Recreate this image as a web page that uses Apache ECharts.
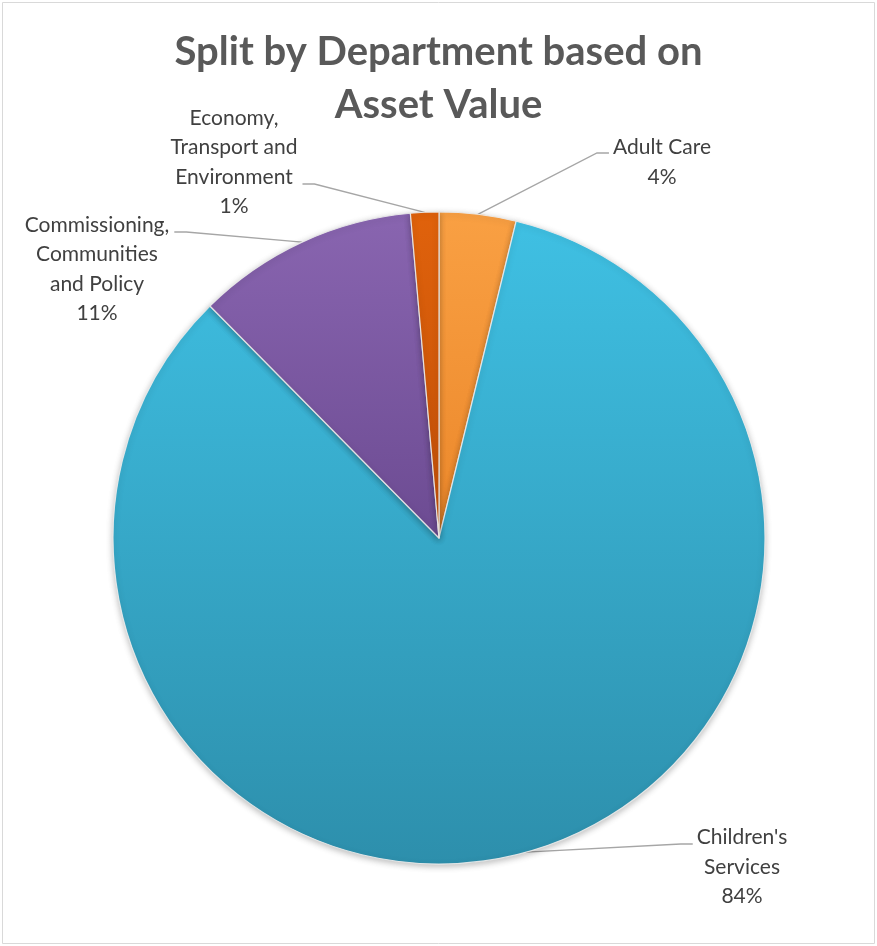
<!DOCTYPE html>
<html><head><meta charset="utf-8">
<script src="https://cdn.jsdelivr.net/npm/echarts@6/dist/echarts.min.js"></script>
<style>html,body{margin:0;padding:0;background:#fff}#c{width:877px;height:946px}</style>
</head><body><div id="c"></div>
<script>
// ---- data ----
const categories = ['Adult Care', "Children's Services", 'Commissioning, Communities and Policy', 'Economy, Transport and Environment'];
const values = [3.8, 83.8, 11.0, 1.4];
const labelNames = ['Adult Care', "Children's\nServices", 'Commissioning,\nCommunities\nand Policy', 'Economy,\nTransport and\nEnvironment'];

// ---- styling ----
const colorsTop = ['#f9a043', '#3fc0e3', '#8965b0', '#e0620c'];
const colorsBottom = ['#eb872a', '#2d8fac', '#6c4b92', '#c25008'];
const labelPlace = [
  {cx: 662, cy: 162, ly: 153, side: 'right'},
  {cx: 742, cy: 867, ly: 844, side: 'right'},
  {cx: 97, cy: 269, ly: 232, side: 'left'},
  {cx: 234, cy: 162, ly: 184, side: 'left'}
];

const chart = echarts.init(document.getElementById('c'), null, {renderer: 'canvas'});
const data = categories.map((name, i) => ({
  name: name,
  value: values[i],
  itemStyle: {
    color: new echarts.graphic.LinearGradient(0, 0, 0, 1, [
      {offset: 0, color: colorsTop[i]},
      {offset: 1, color: colorsBottom[i]}
    ])
  }
}));

chart.setOption({
  animation: false,
  backgroundColor: '#ffffff',
  title: {
    text: 'Split by Department based on\nAsset Value',
    left: 'center',
    top: 21,
    textStyle: {
      fontFamily: 'Lato',
      fontSize: 40,
      fontWeight: 'bold',
      color: '#595959',
      lineHeight: 53
    }
  },
  graphic: [{
    type: 'rect',
    shape: {x: 2.5, y: 2.5, width: 872, height: 941},
    style: {fill: 'none', stroke: '#d9d9d9', lineWidth: 1},
    silent: true
  }],
  series: [{
    type: 'pie',
    center: [439, 538],
    radius: 326,
    startAngle: 90,
    clockwise: true,
    percentPrecision: 0,
    avoidLabelOverlap: false,
    data: data,
    itemStyle: {
      borderColor: 'rgba(235,235,235,0.9)',
      borderWidth: 1.2,
      shadowBlur: 6,
      shadowColor: 'rgba(0,0,0,0.25)',
      shadowOffsetY: 2
    },
    label: {
      show: true,
      position: 'outside',
      formatter: p => labelNames[p.dataIndex] + '\n' + p.percent + '%',
      fontFamily: 'Lato',
      fontSize: 21,
      lineHeight: 29.5,
      color: '#404040',
      align: 'center'
    },
    labelLine: {
      show: true,
      length: 20,
      length2: 12,
      lineStyle: {color: '#a6a6a6', width: 1.3}
    },
    labelLayout: function (p) {
      const pl = labelPlace[p.dataIndex];
      const w = p.labelRect.width;
      const start = p.labelLinePoints[0];
      const endX = pl.side === 'right' ? pl.cx - w / 2 - 4 : pl.cx + w / 2 + 5;
      const elbowX = pl.side === 'right' ? endX - 12 : endX + 12;
      return {
        x: pl.cx, y: pl.cy, align: 'center', verticalAlign: 'middle',
        labelLinePoints: [start, [elbowX, pl.ly], [endX, pl.ly]]
      };
    },
    emphasis: {disabled: true}
  }]
});
</script></body></html>
